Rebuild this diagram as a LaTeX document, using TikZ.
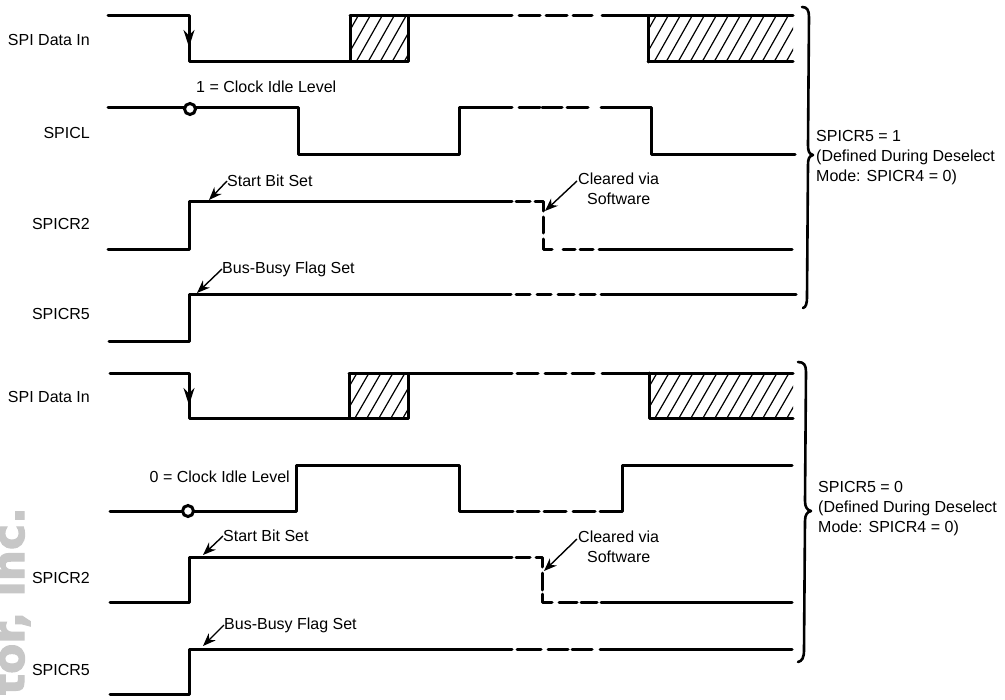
\documentclass[tikz,border=0pt]{standalone}
\usepackage{fontspec}
\setmainfont{Liberation Sans}
\newfontfamily\markfont[FakeBold=2.5]{DejaVu Sans Bold}
\usetikzlibrary{arrows.meta}
\tikzset{
  wave/.style={line width=3bp,line cap=round,line join=round,black},
  hatchline/.style={line width=1.2bp,black},
  callout/.style={line width=1.4bp,black,-{Stealth[length=13bp,width=10bp]}},
  bracepath/.style={line width=2.6bp,line cap=round,line join=round,black},
  lab/.style={inner sep=0pt,font=\fontsize{16bp}{20bp}\selectfont,text=black},
  sig/.style={lab,anchor=east},
  note/.style={lab,anchor=west},
  idle/.style={circle,draw=black,line width=3bp,fill=white,minimum size=11bp,inner sep=0pt},
}
\newcommand{\hatchbox}[4]{%
  \begin{scope}
    \clip (#1,#3) rectangle (#2,#4);
    \pgfmathsetmacro{\xs}{#1-30}
    \pgfmathsetmacro{\xn}{#1-30+12}
    \foreach \hx in {\xs,\xn,...,#2}
      \draw[hatchline] (\hx,#4) -- ++(26,#3-#4);
  \end{scope}}
\begin{document}
\begin{tikzpicture}[x=1bp,y=-1bp]
\useasboundingbox (0,0) rectangle (1005,700);
% watermark
\node[rotate=90,anchor=base east,inner sep=0pt,text=black!22,font=\fontsize{44bp}{44bp}\markfont] (mark) at (24,507) {tor, inc.};
% ---------- upper block ----------
\hatchbox{350}{408}{16}{62}
\hatchbox{648}{793}{16}{62}
\draw[wave] (108,16) -- (189,16) -- (189,62) -- (350,62) -- (350,16) -- (408,16) -- (408,62) -- (350,62);
\draw[wave] (350,16) -- (512,16);
\draw[wave] (648,62) -- (648,16);
\draw[wave] (648,62) -- (793,62);
\foreach \a/\b in {519/540,546/567,573/592} \draw[wave] (\a,16) -- (\b,16);
\draw[wave] (602,16) -- (793,16);
\coordinate (f1s) at (189,16); \coordinate (f1e) at (189,47);
\draw[callout,-{Stealth[length=17bp,width=11bp]}] (f1s) -- (f1e);
% SPICL
\draw[wave] (108,108) -- (298,108) -- (298,155) -- (459,155) -- (459,108) -- (512,108);
\foreach \a/\b in {519/540,542/562,567/588} \draw[wave] (\a,108) -- (\b,108);
\draw[wave] (601,108) -- (651,108) -- (651,155) -- (795,155);
\node[idle] (c1) at (190,109) {};
% SPICR2
\draw[wave] (108,249) -- (189,249) -- (189,201) -- (512,201);
\draw[wave] (516,201) -- (530,201);
\draw[wave] (535,201) -- (543,201) -- (543,211);
\draw[wave] (543,217) -- (543,233);
\draw[wave] (543,239) -- (543,249) -- (552,249);
\foreach \a/\b in {563/575,580/593} \draw[wave] (\a,249) -- (\b,249);
\draw[wave] (599,249) -- (792,249);
% SPICR5
\draw[wave] (109,341) -- (189,341) -- (189,294) -- (511,294);
\foreach \a/\b in {516/530,537/551,558/574,580/595} \draw[wave] (\a,294) -- (\b,294);
\draw[wave] (601,294) -- (796,294);
% labels
\node[sig] (l1) at (90,40) {SPI Data In};
\node[sig] (l2) at (90,133) {SPICL};
\node[sig] (l3) at (90,224) {SPICR2};
\node[sig] (l4) at (90,314) {SPICR5};
\node[note] (idleA) at (196,87) {1 = Clock Idle Level};
\node[note] (startA) at (227,181) {Start Bit Set};
\node[note] (busyA) at (222,269) {Bus-Busy Flag Set};
\node[lab,align=center,anchor=north west] (clearA) at (578,173) {Cleared via\\Software};
\coordinate (ta1) at (209,200); \draw[callout] (startA.west) -- (ta1);
\coordinate (ta2) at (197,293); \draw[callout] (busyA.west) -- (ta2);
\coordinate (ca) at (577,181); \coordinate (ta3) at (545,211); \draw[callout] (ca) -- (ta3);
% brace
\coordinate (b1) at (802,7); \coordinate (b2) at (813,155); \coordinate (b3) at (803,308);
\draw[bracepath] (b1) .. controls (807,7) and (809,10) .. (809,17) -- (808,145) .. controls (808,151) and (809,154) .. (b2) .. controls (809,156) and (808,159) .. (808,165) -- (807,296) .. controls (807,304) and (806,307) .. (b3);
\node[lab,align=left,anchor=north west] (txtA) at (816,130) {SPICR5 = 1\\(Defined During Deselect\\Mode: SPICR4 = 0)};
% ---------- lower block ----------
\hatchbox{349}{408}{373}{418}
\hatchbox{649}{793}{373}{418}
\draw[wave] (110,373) -- (189,373) -- (189,418) -- (349,418) -- (349,373) -- (408,373) -- (408,418) -- (349,418);
\draw[wave] (349,373) -- (512,373);
\foreach \a/\b in {517/538,545/566,572/594} \draw[wave] (\a,373) -- (\b,373);
\draw[wave] (602,373) -- (793,373);
\draw[wave] (649,373) -- (649,418) -- (793,418);
\coordinate (f2s) at (189,373); \coordinate (f2e) at (189,405);
\draw[callout,-{Stealth[length=17bp,width=11bp]}] (f2s) -- (f2e);
% clock
\draw[wave] (110,511) -- (296,511) -- (296,465) -- (459,465) -- (459,511) -- (513,511);
\foreach \a/\b in {517/539,544/566,573/595} \draw[wave] (\a,511) -- (\b,511);
\draw[wave] (600,511) -- (622,511) -- (622,465) -- (792,465);
\node[idle] (c2) at (188,511) {};
% SPICR2
\draw[wave] (110,602) -- (189,602) -- (189,557) -- (512,557);
\draw[wave] (516,557) -- (530,557);
\draw[wave] (536,557) -- (542,557) -- (542,567);
\draw[wave] (542,573) -- (542,590);
\draw[wave] (542,594) -- (542,602) -- (552,602);
\foreach \a/\b in {559/577,581/597} \draw[wave] (\a,602) -- (\b,602);
\draw[wave] (601,602) -- (792,602);
% SPICR5
\draw[wave] (110,694) -- (189,694) -- (189,649) -- (512,649);
\foreach \a/\b in {517/541,548/568,572/592} \draw[wave] (\a,649) -- (\b,649);
\draw[wave] (600,649) -- (792,649);
% labels
\node[sig] (l5) at (90,397) {SPI Data In};
\node[sig] (l6) at (90,578) {SPICR2};
\node[sig] (l7) at (90,670) {SPICR5};
\node[lab,anchor=east] (idleB) at (290,477) {0 = Clock Idle Level};
\node[note] (startB) at (223,536) {Start Bit Set};
\node[note] (busyB) at (224,625) {Bus-Busy Flag Set};
\node[lab,align=center,anchor=north west] (clearB) at (578,531) {Cleared via\\Software};
\coordinate (tb1) at (203,555); \draw[callout] (startB.west) -- (tb1);
\coordinate (tb2) at (203,646); \draw[callout] (busyB.west) -- (tb2);
\coordinate (cb) at (577,539); \coordinate (tb3) at (544,571); \draw[callout] (cb) -- (tb3);
% brace
\coordinate (b4) at (798,362); \coordinate (b5) at (811,511); \coordinate (b6) at (798,662);
\draw[bracepath] (b4) .. controls (804,362) and (806,365) .. (806,372) -- (805,501) .. controls (805,507) and (807,510) .. (b5) .. controls (807,512) and (805,515) .. (805,521) -- (804,650) .. controls (804,658) and (802,661) .. (b6);
\node[lab,align=left,anchor=north west] (txtB) at (818,481) {SPICR5 = 0\\(Defined During Deselect\\Mode: SPICR4 = 0)};
\end{tikzpicture}
\end{document}
